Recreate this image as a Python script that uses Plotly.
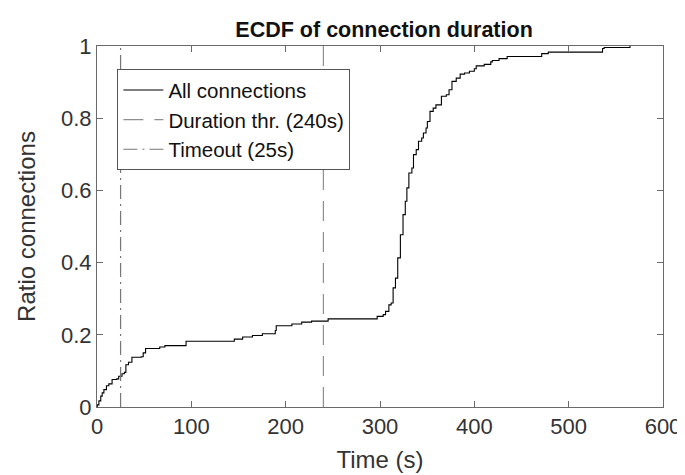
import plotly.graph_objects as go

# ECDF step points (duration in s, cumulative ratio)
duration_s = [0, 0.3, 2, 4, 5.5, 7.3, 10, 12.5, 16, 21, 23, 26.5, 29, 30.6, 33.4, 37, 47, 49, 51.5,
              66.5, 72, 94.4, 145.6, 154.4, 164.8, 175.3, 189, 190, 206.6, 217, 227.5, 245, 297,
              303.4, 305.9, 309.4, 311.8, 313.9, 316.4, 318.8, 321.6, 324.4, 326.8, 328.5, 330.6,
              333.8, 335.5, 338.4, 340.8, 344.2, 346, 348.8, 350.2, 353, 356.4, 359.3, 365.1,
              370.3, 373.2, 376.3, 380.8, 385, 389.6, 394.8, 400, 402, 410.5, 417.4, 419.1, 426.2,
              434.8, 471.4, 478.4, 535.9, 537.6, 565]
ratio = [0, 0.006, 0.017, 0.03, 0.039, 0.048, 0.059, 0.064, 0.076, 0.078, 0.085, 0.092, 0.096,
         0.117, 0.124, 0.138, 0.139, 0.15, 0.162, 0.166, 0.17, 0.182, 0.188, 0.194, 0.198, 0.203,
         0.212, 0.225, 0.23, 0.235, 0.238, 0.244, 0.251, 0.256, 0.265, 0.283, 0.288, 0.33, 0.357,
         0.413, 0.477, 0.533, 0.57, 0.607, 0.648, 0.662, 0.699, 0.713, 0.736, 0.745, 0.759, 0.773,
         0.791, 0.819, 0.828, 0.837, 0.861, 0.865, 0.879, 0.902, 0.911, 0.922, 0.925, 0.93, 0.937,
         0.945, 0.949, 0.956, 0.96, 0.965, 0.971, 0.979, 0.983, 0.993, 0.996, 1.0]

duration_threshold = [240, 240]
timeout = [25, 25]
vline_y = [0, 1]

x_ticks = [0, 100, 200, 300, 400, 500, 600]
y_ticks = [0, 0.2, 0.4, 0.6, 0.8, 1]

FONT = "Liberation Sans, Arial, Helvetica, sans-serif"
AX = "#6a6a6a"
TXT = "#333333"

fig = go.Figure()
fig.add_trace(go.Scatter(x=duration_s, y=ratio, mode="lines", line_shape="hv",
                         line=dict(color="black", width=1.1), name="All connections"))
fig.add_trace(go.Scatter(x=duration_threshold, y=vline_y, mode="lines",
                         line=dict(color="#8f8f8f", width=1.2, dash="20px,11px"),
                         name="Duration thr. (240s)"))
fig.add_trace(go.Scatter(x=timeout, y=vline_y, mode="lines",
                         line=dict(color="#777777", width=1.2, dash="14px,5px,2px,5px"),
                         name="Timeout (25s)"))

axis_common = dict(showline=True, linecolor=AX, linewidth=1, mirror="ticks",
                   ticks="inside", ticklen=6, tickcolor=AX, tickwidth=1,
                   showgrid=False, zeroline=False,
                   tickfont=dict(family=FONT, size=22, color=TXT))

fig.update_layout(
    width=685, height=475,
    margin=dict(l=89, r=22, t=38, b=76),
    paper_bgcolor="white", plot_bgcolor="white",
    title=dict(text="<b>ECDF of connection duration</b>", x=0.549, xref="container",
               xanchor="center", y=1 - 21 / 475, yanchor="middle", yref="container",
               font=dict(family=FONT, size=21.5, color="#111111")),
    xaxis=dict(range=[0, 600], tickvals=x_ticks, **axis_common,
               title=dict(text="Time (s)", font=dict(family=FONT, size=24, color=TXT), standoff=12)),
    yaxis=dict(range=[0, 1], tickvals=y_ticks, **axis_common,
               title=dict(text="Ratio connections", font=dict(family=FONT, size=24, color=TXT), standoff=18)),
    legend=dict(x=0.036, y=0.936, xanchor="left", yanchor="top",
                bgcolor="white", bordercolor="#555555", borderwidth=1,
                font=dict(family=FONT, size=20.5, color="#111111"),
                tracegroupgap=0, itemwidth=40),
    showlegend=True,
)

fig.write_html("out.html")
